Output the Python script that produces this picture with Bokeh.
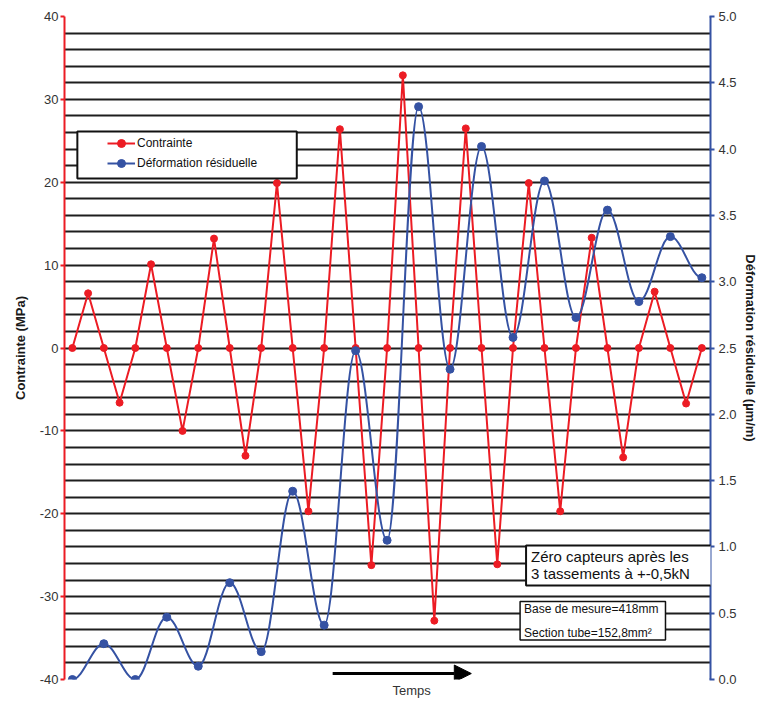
from bokeh.plotting import figure
from bokeh.models import (Range1d, LinearAxis, FixedTicker, PrintfTickFormatter, Label, Title,
                          BoxAnnotation, Legend, LegendItem, Arrow, NormalHead)
from bokeh.embed import file_html
from bokeh.resources import INLINE

# ---- data ----
temps = list(range(41))
contrainte = [0, 6.6, 0, -6.6, 0, 10.1, 0, -10.0, 0, 13.2, 0, -13.0, 0, 19.9, 0, -19.7,
              0, 26.4, 0, -26.2, 0, 32.9, 0, -32.9, 0, 26.5, 0, -26.1, 0, 19.9, 0, -19.7,
              0, 13.3, 0, -13.2, 0, 6.8, 0, -6.7, 0]
temps_def = temps[::2]
deformation = [0.0, 0.27, 0.0, 0.47, 0.10, 0.73, 0.21, 1.42, 0.41, 2.48, 1.05,
               4.32, 2.34, 4.02, 2.58, 3.76, 2.73, 3.54, 2.85, 3.34, 3.03]
left_ticks = [-40, -30, -20, -10, 0, 10, 20, 30, 40]
right_ticks = [0.0, 0.5, 1.0, 1.5, 2.0, 2.5, 3.0, 3.5, 4.0, 4.5, 5.0]
grid_ticks = list(range(-40, 41, 2))

RED = "#EC1C24"
BLUE = "#3552A3"
FONT = "Liberation Sans"

p = figure(width=760, height=704, output_backend="svg", toolbar_location=None,
           x_range=Range1d(-0.5, 40.55), y_range=Range1d(-40, 40),
           x_axis_location=None,
           min_border_left=64, min_border_right=48, min_border_top=16, min_border_bottom=25)
p.outline_line_color = None
p.background_fill_color = "white"
p.extra_y_ranges = {"def": Range1d(0, 5)}

for g in p.xgrid:
    g.visible = False
p.ygrid.ticker = FixedTicker(ticks=grid_ticks)
p.ygrid.grid_line_color = "#1e1e1e"
p.ygrid.grid_line_width = 2

# left axis
ax = p.yaxis[0]
ax.ticker = FixedTicker(ticks=left_ticks)
ax.formatter = PrintfTickFormatter(format="%d")
ax.axis_line_color = RED
ax.axis_line_width = 2
ax.major_tick_line_color = RED
ax.major_tick_line_width = 2
ax.major_tick_out = 4
ax.major_tick_in = 0
ax.minor_tick_line_color = None
ax.major_label_text_font = FONT
ax.major_label_text_font_size = "13px"
ax.major_label_text_color = "#333333"
ax.major_label_standoff = 2
ax.axis_label = "Contrainte (MPa)"
ax.axis_label_text_font = FONT
ax.axis_label_text_font_size = "13px"
ax.axis_label_text_font_style = "bold"
ax.axis_label_text_color = "#1a1a1a"
ax.axis_label_standoff = 9

# right axis
rax = LinearAxis(y_range_name="def", ticker=FixedTicker(ticks=right_ticks),
                 formatter=PrintfTickFormatter(format="%.1f"))
rax.axis_line_color = BLUE
rax.axis_line_width = 2
rax.major_tick_line_color = BLUE
rax.major_tick_line_width = 2
rax.major_tick_out = 4
rax.major_tick_in = 1
rax.minor_tick_line_color = None
rax.major_label_text_font = FONT
rax.major_label_text_font_size = "13px"
rax.major_label_text_color = "#333333"
rax.major_label_standoff = 4
rax.axis_label = "Déformation résiduelle (µm/m)"
rax.axis_label_text_font = FONT
rax.axis_label_text_font_size = "13px"
rax.axis_label_text_font_style = "bold"
rax.axis_label_text_color = "#1a1a1a"
rax.axis_label_standoff = 3
p.add_layout(rax, "right")

# series
red_line = p.line(temps, contrainte, line_color=RED, line_width=2)
red_pts = p.scatter(temps, contrainte, size=7, fill_color=RED, line_color=RED)

x0 = temps_def[:-1]
x1 = temps_def[1:]
y0 = deformation[:-1]
y1 = deformation[1:]
k = 0.36
cx0 = [a + k * (b - a) for a, b in zip(x0, x1)]
cx1 = [b - k * (b - a) for a, b in zip(x0, x1)]
blue_curve = p.bezier(x0=x0, y0=y0, x1=x1, y1=y1, cx0=cx0, cy0=y0, cx1=cx1, cy1=y1,
                      line_color=BLUE, line_width=2, y_range_name="def")
blue_pts = p.scatter(temps_def, deformation, size=8, fill_color=BLUE, line_color=BLUE,
                     y_range_name="def")

# legend box + legend
p.add_layout(BoxAnnotation(left=0.317, right=14.26, top=26.12, bottom=20.45,
                           fill_color="white", fill_alpha=1.0,
                           line_color="#111111", line_width=2, line_alpha=1.0))
legend = Legend(items=[LegendItem(label="Contrainte", renderers=[red_line, red_pts]),
                       LegendItem(label="Déformation résiduelle", renderers=[blue_curve, blue_pts])],
                location=(43, 506), padding=0, margin=0, spacing=0,
                glyph_width=28, glyph_height=20, label_height=20, label_standoff=2,
                border_line_color=None, background_fill_alpha=0,
                label_text_font=FONT, label_text_font_size="12px", label_text_color="#111111")
p.add_layout(legend)

# text boxes
p.add_layout(Label(x=28.83, y=-23.83, text="Zéro capteurs après les\n3 tassements à +-0,5kN",
                   anchor="top_left", text_align="left", text_baseline="top",
                   text_font=FONT, text_font_size="15px", text_line_height=1.0,
                   text_color="#111111",
                   background_fill_color="white", background_fill_alpha=1.0,
                   border_line_color="#111111", border_line_width=2,
                   padding=dict(left=5, right=43, top=3, bottom=3)))
p.add_layout(Label(x=28.45, y=-30.6, text="Base de mesure=418mm\nSection tube=152,8mm²",
                   anchor="top_left", text_align="left", text_baseline="top",
                   text_font=FONT, text_font_size="12px", text_line_height=1.75,
                   text_color="#111111",
                   background_fill_color="white", background_fill_alpha=1.0,
                   border_line_color="#111111", border_line_width=1.5,
                   padding=dict(left=4, right=7, top=0, bottom=0)))

# time arrow and label
p.add_layout(Arrow(x_start=16.54, y_start=-39.28, x_end=25.35, y_end=-39.28,
                   line_color="black", line_width=3,
                   end=NormalHead(size=17, fill_color="black", line_color="black")))
p.add_layout(Title(text="Temps", align="left", offset=328, standoff=3,
                   text_font=FONT, text_font_size="13px", text_font_style="normal",
                   text_color="#333333"), "below")

open("out.html", "w").write(file_html(p, INLINE))
